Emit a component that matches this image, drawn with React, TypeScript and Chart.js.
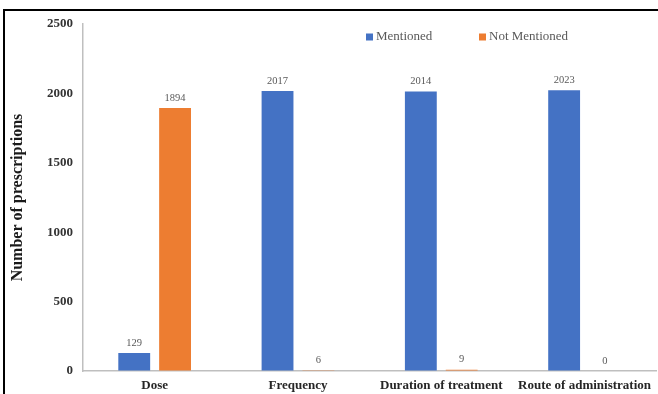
import React, { useEffect, useRef } from "react";
import { Chart, registerables } from "chart.js";

Chart.register(...registerables);

const categories = ["Dose", "Frequency", "Duration of treatment", "Route of administration"];
const mentioned = [129, 2017, 2014, 2023];
const notMentioned = [1894, 6, 9, 0];
const seriesNames = ["Mentioned", "Not Mentioned"];
const yTicks = [0, 500, 1000, 1500, 2000, 2500];

const BLUE = "#4472C4";
const ORANGE = "#ED7D31";
const SERIF = "'Liberation Serif', 'Times New Roman', serif";

const valueLabels = {
  id: "valueLabels",
  afterDatasetsDraw(chart: any) {
    const ctx = chart.ctx;
    ctx.save();
    ctx.font = `10.5px ${SERIF}`;
    ctx.fillStyle = "#595959";
    ctx.textAlign = "center";
    ctx.textBaseline = "bottom";
    chart.data.datasets.forEach((ds: any, di: number) => {
      const meta = chart.getDatasetMeta(di);
      meta.data.forEach((bar: any, i: number) => {
        ctx.fillText(String(ds.data[i]), bar.x, bar.y - 5);
      });
    });
    ctx.restore();
  },
};

const customLegend = {
  id: "customLegend",
  afterDraw(chart: any) {
    const ctx = chart.ctx;
    const xs = [366, 479];
    const y = 37;
    ctx.save();
    ctx.font = `13px ${SERIF}`;
    ctx.textBaseline = "middle";
    ctx.textAlign = "left";
    chart.data.datasets.forEach((ds: any, i: number) => {
      ctx.fillStyle = ds.backgroundColor;
      ctx.fillRect(xs[i], y - 3.5, 7, 7);
      ctx.fillStyle = "#595959";
      ctx.fillText(ds.label, xs[i] + 10, y);
    });
    ctx.restore();
  },
};

export default function App() {
  const canvasRef = useRef<HTMLCanvasElement | null>(null);

  useEffect(() => {
    if (!canvasRef.current) return;
    const chart = new Chart(canvasRef.current, {
      type: "bar",
      data: {
        labels: categories,
        datasets: [
          {
            label: seriesNames[0],
            data: mentioned,
            backgroundColor: BLUE,
            categoryPercentage: 0.57,
            barPercentage: 0.78,
          },
          {
            label: seriesNames[1],
            data: notMentioned,
            backgroundColor: ORANGE,
            categoryPercentage: 0.57,
            barPercentage: 0.78,
          },
        ],
      },
      options: {
        animation: false,
        responsive: false,
        maintainAspectRatio: false,
        layout: { padding: { top: 24, right: 0, bottom: 0, left: 0 } },
        plugins: {
          legend: { display: false },
          tooltip: { enabled: false },
        },
        scales: {
          x: {
            grid: { display: true, drawOnChartArea: false, drawTicks: false },
            border: { display: true, color: "#bfbfbf", width: 1.5 },
            ticks: {
              padding: 7,
              color: "#262626",
              font: { family: SERIF, size: 13, weight: "bold" },
              maxRotation: 0,
              autoSkip: false,
            },
            afterFit: (scale: any) => {
              scale.height = 23;
            },
          },
          y: {
            min: 0,
            max: 2500,
            afterBuildTicks: (scale: any) => {
              scale.ticks = yTicks.map((v) => ({ value: v }));
            },
            grid: { display: true, drawOnChartArea: false, drawTicks: false },
            border: { display: true, color: "#bfbfbf", width: 1.5 },
            ticks: {
              padding: 10,
              color: "#333333",
              font: { family: SERIF, size: 13, weight: "bold" },
              callback: (v: any) => String(v),
            },
            title: {
              display: true,
              text: "Number of prescriptions",
              color: "#1a1a1a",
              font: { family: SERIF, size: 16, weight: "bold" },
              padding: { top: 8, bottom: 0 },
            },
            afterFit: (scale: any) => {
              scale.width = 83;
            },
          },
        },
      },
      plugins: [valueLabels, customLegend],
    });
    return () => chart.destroy();
  }, []);

  return (
    <div style={{ position: "fixed", left: 0, top: 0, width: 658, height: 394, background: "#fff", overflow: "hidden" }}>
      <canvas ref={canvasRef} width={658} height={394} style={{ position: "absolute", left: 0, top: 0, width: 658, height: 394 }} />
      <div
        style={{
          position: "absolute",
          left: 3,
          top: 9,
          width: 700,
          height: 420,
          borderTop: "2px solid #000",
          borderLeft: "2px solid #000",
          pointerEvents: "none",
        }}
      />
    </div>
  );
}
